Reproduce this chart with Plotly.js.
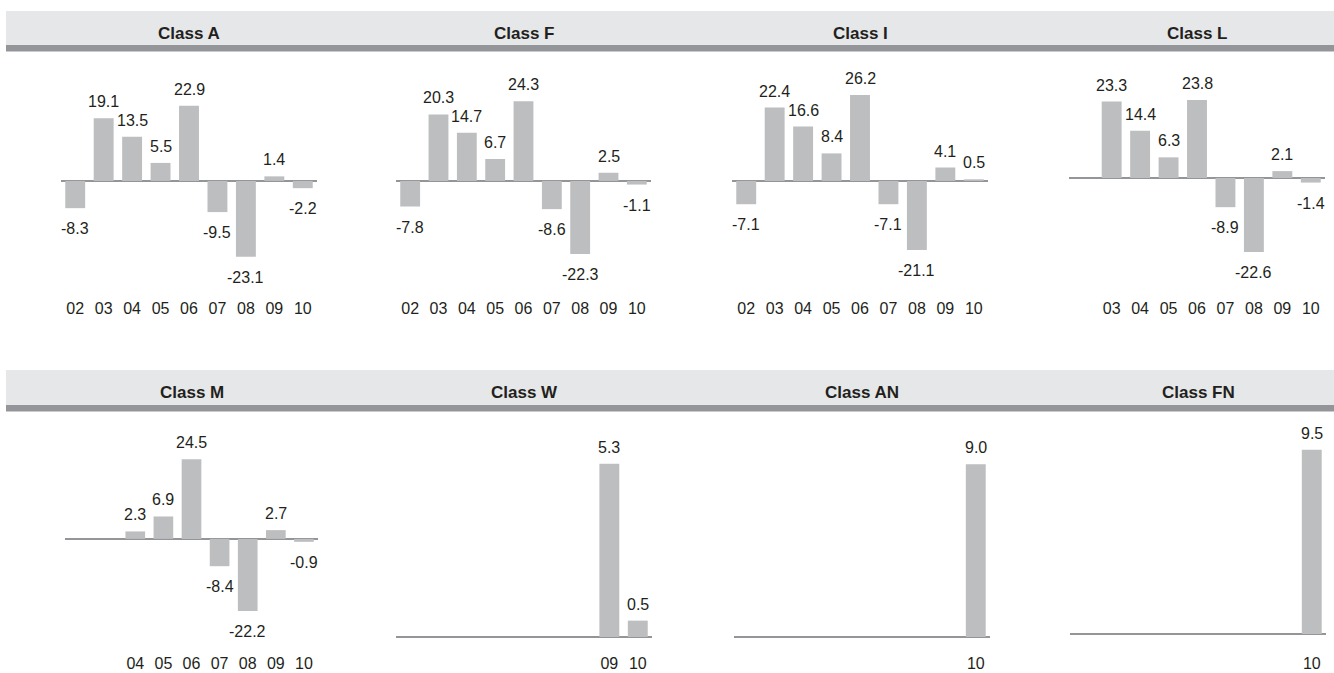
<!DOCTYPE html>
<html><head><meta charset="utf-8">
<script src="https://cdn.plot.ly/plotly-3.0.1.min.js"></script>
<style>html,body{margin:0;padding:0;background:#fff}#chart{width:1334px;height:673px}</style>
</head><body><div id="chart"></div>
<script>
// ---- data ----
const allYears = ['02','03','04','05','06','07','08','09','10'];
const titles = ['Class A','Class F','Class I','Class L','Class M','Class W','Class AN','Class FN'];

const yearsA = ['02','03','04','05','06','07','08','09','10'];
const valuesA = [-8.3, 19.1, 13.5, 5.5, 22.9, -9.5, -23.1, 1.4, -2.2];
const yearsF = ['02','03','04','05','06','07','08','09','10'];
const valuesF = [-7.8, 20.3, 14.7, 6.7, 24.3, -8.6, -22.3, 2.5, -1.1];
const yearsI = ['02','03','04','05','06','07','08','09','10'];
const valuesI = [-7.1, 22.4, 16.6, 8.4, 26.2, -7.1, -21.1, 4.1, 0.5];
const yearsL = ['03','04','05','06','07','08','09','10'];
const valuesL = [23.3, 14.4, 6.3, 23.8, -8.9, -22.6, 2.1, -1.4];
const yearsM = ['04','05','06','07','08','09','10'];
const valuesM = [2.3, 6.9, 24.5, -8.4, -22.2, 2.7, -0.9];
const yearsW = ['09','10'];
const valuesW = [5.3, 0.5];
const yearsAN = ['10'];
const valuesAN = [9.0];
const yearsFN = ['10'];
const valuesFN = [9.5];

const seriesYears = [yearsA, yearsF, yearsI, yearsL, yearsM, yearsW, yearsAN, yearsFN];
const seriesValues = [valuesA, valuesF, valuesI, valuesL, valuesM, valuesW, valuesAN, valuesFN];

// ---- layout geometry (pixels) ----
const W = 1334, H = 673;
const xPx = [[61,317],[396,651],[732,988],[1069,1325],[65,318],[396,652],[734,990],[1070,1326]];
const rowPx = [[58,297],[418,652]];
const yRanges = [[-35.4,37.5],[-35.4,37.5],[-35.4,37.5],[-36.3,36.6],[-34.8,37.2],[-0.46,6.70],[-0.78,11.41],[-0.93,11.13]];
const bandPx = [[11,45,51.5],[370,405,411.5]];

const FONT = 'Liberation Sans Narrow, Arial Narrow, Liberation Sans, Arial, sans-serif';
const TXT = '#231f20';
const py = p => 1 - p / H;

const traces = [];
const layout = {
  width: W, height: H,
  margin: {l:0, r:0, t:0, b:0},
  paper_bgcolor: '#fff', plot_bgcolor: 'rgba(0,0,0,0)',
  showlegend: false, bargap: 0.3,
  font: {family: FONT, color: TXT, size: 16},
  shapes: [], annotations: []
};

bandPx.forEach(b => {
  layout.shapes.push({type:'rect', xref:'paper', yref:'paper', x0: 6/W, x1: 1, y0: py(b[1]), y1: py(b[0]), fillcolor:'#e6e7e8', line:{width:0}, layer:'below'});
  layout.shapes.push({type:'rect', xref:'paper', yref:'paper', x0: 6/W, x1: 1, y0: py(b[2]), y1: py(b[1]), fillcolor:'#939598', line:{width:0}, layer:'below'});
});

for (let i = 0; i < 8; i++) {
  const n = i === 0 ? '' : String(i + 1);
  const row = i < 4 ? 0 : 1;
  traces.push({
    type: 'bar', x: seriesYears[i], y: seriesValues[i],
    xaxis: 'x' + n, yaxis: 'y' + n,
    marker: {color: '#bcbec0', line: {width: 0}},
    hoverinfo: 'skip'
  });
  layout['xaxis' + n] = {
    domain: [xPx[i][0] / W, xPx[i][1] / W],
    anchor: 'y' + n, type: 'category',
    categoryorder: 'array', categoryarray: allYears,
    tickmode: 'array', tickvals: seriesYears[i], ticktext: seriesYears[i],
    range: [-0.5, 8.5],
    showgrid: false, showline: false, zeroline: false, ticks: '',
    tickfont: {family: FONT, size: 16, color: TXT},
    fixedrange: true
  };
  layout['yaxis' + n] = {
    domain: [py(rowPx[row][1]), py(rowPx[row][0])],
    anchor: 'x' + n, range: yRanges[i],
    showgrid: false, showline: false, showticklabels: false, ticks: '',
    zeroline: true, zerolinecolor: '#939598', zerolinewidth: 2,
    fixedrange: true
  };
  // panel title
  layout.annotations.push({
    xref: 'paper', yref: 'paper',
    x: (xPx[i][0] + xPx[i][1]) / 2 / W, y: py(bandPx[row][0] + 22.5),
    xanchor: 'center', yanchor: 'middle', showarrow: false,
    text: '<b>' + titles[i] + '</b>',
    font: {family: FONT, size: 17, color: TXT}
  });
  // value labels (category index used as x position on the category axis)
  seriesValues[i].forEach((v, k) => {
    layout.annotations.push({
      xref: 'x' + n, yref: 'y' + n,
      x: allYears.indexOf(seriesYears[i][k]), y: v,
      text: v.toFixed(1), showarrow: false,
      xanchor: 'center', yanchor: v >= 0 ? 'bottom' : 'top',
      yshift: v >= 0 ? 6 : -10,
      font: {family: FONT, size: 16, color: TXT}
    });
  });
}

Plotly.newPlot('chart', traces, layout, {staticPlot: true, displayModeBar: false});
</script>
</body></html>
